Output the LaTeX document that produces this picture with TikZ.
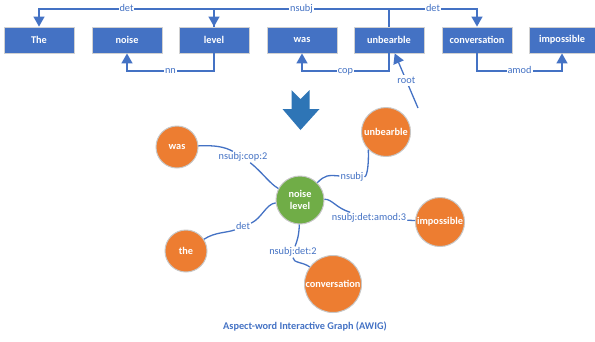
\documentclass[tikz,border=0pt]{standalone}
\usepackage{fontspec}
\setmainfont{Carlito}
\usetikzlibrary{arrows.meta}
\definecolor{boxblue}{HTML}{4472C4}
\definecolor{worange}{HTML}{ED7D31}
\definecolor{wgreen}{HTML}{70AD47}
\definecolor{bigarrow}{HTML}{2E75B6}
\begin{document}
\begin{tikzpicture}[x=1pt,y=-1pt,
  wordbox/.style={rectangle, fill=boxblue, draw=black!18, line width=0.8pt, minimum width=70pt, minimum height=26pt, inner sep=0pt, text=white, font=\fontsize{10.3}{12}\selectfont\bfseries},
  dep/.style={draw=boxblue, line width=1.3pt, -{Triangle[width=11pt,length=10pt]}},
  deplink/.style={draw=boxblue, line width=1.3pt},
  lbl/.style={fill=white, inner sep=1pt, text=boxblue, font=\fontsize{10.3}{12}\selectfont, text height=7pt, text depth=2pt},
  wcirc/.style={circle, draw=black!22, line width=1pt, inner sep=0pt, text=white, font=\fontsize{10.3}{12.5}\selectfont\bfseries, align=center},
  curve/.style={draw=boxblue, line width=1.3pt}]
\useasboundingbox (0,0) rectangle (595,341);

% word boxes
\node[wordbox] (The) at (39,40) {The};
\node[wordbox] (noise) at (127,40) {noise};
\node[wordbox] (level) at (214,40) {level};
\node[wordbox] (was) at (302,40) {was};
\node[wordbox] (unbear) at (389,40) {unbearble};
\node[wordbox] (conv) at (477,40) {conversation};
\node[wordbox, minimum width=66pt] (impos) at (562,40) {impossible};

\coordinate (top) at (0,9);
\coordinate (bot) at (0,71);

% upper arcs
\draw[dep] (level.north) -- (level.north |- top) -- node[lbl]{det} (The.north |- top) -- (The.north);
\draw[dep] (unbear.north) -- (unbear.north |- top) -- node[lbl]{nsubj} (level.north |- top) -- (level.north);
\draw[dep] (unbear.north |- top) -- node[lbl]{det} (conv.north |- top) -- (conv.north);

% lower arcs
\draw[dep] (level.south) -- (level.south |- bot) -- node[lbl]{nn} (noise.south |- bot) -- (noise.south);
\draw[dep] (unbear.south) -- (unbear.south |- bot) -- node[lbl]{cop} (was.south |- bot) -- (was.south);
\draw[dep] (conv.south) -- (conv.south |- bot) -- node[lbl]{amod} (impos.south |- bot) -- (impos.south);

% root
\coordinate (rs) at (418,108);
\draw[dep] (rs) -- node[lbl]{root} (unbear);

% big arrow
\fill[bigarrow] (291.5,90) -- (300.5,99) -- (309.5,90) -- (309.5,109) -- (319.5,109) -- (300.5,130) -- (282.5,109) -- (291.5,109) -- cycle;

% circles
\node[wcirc, fill=worange, minimum size=42pt] (cwas) at (177,147) {was};
\node[wcirc, fill=wgreen, minimum size=48pt] (cnl) at (300,200) {noise\\level};
\node[wcirc, fill=worange, minimum size=49pt] (cunb) at (386,132) {unbearble};
\node[wcirc, fill=worange, minimum size=49pt] (cimp) at (440,222) {impossible};
\node[wcirc, fill=worange, minimum size=42pt] (cthe) at (186,251) {the};
\node[wcirc, fill=worange, minimum size=57pt] (cconv) at (333,284) {conversation};

% edge labels
\node[lbl] (l1) at (243,157) {nsubj:cop:2};
\node[lbl] (l2) at (352,177) {nsubj};
\node[lbl] (l3) at (369,218) {nsubj:det:amod:3};
\node[lbl] (l4) at (243,227) {det};
\node[lbl] (l5) at (293,252) {nsubj:det:2};

% curved edges
\draw[curve] (cwas) .. controls (215,145) and (225,147) .. (l1);
\draw[curve] (l1) .. controls (262,172) and (270,184) .. (cnl);
\draw[curve] (cunb.225) .. controls (369,170) and (366,177) .. (l2);
\draw[curve] (l2) .. controls (328,175) and (325,175) .. (cnl);
\draw[curve] (cnl) .. controls (332,199) and (336,208) .. (l3);
\draw[curve] (l3) -- (cimp);
\draw[curve] (cnl) .. controls (266,204) and (262,218) .. (l4);
\draw[curve] (l4) .. controls (226,233) and (215,232) .. (cthe);
\draw[curve] (cnl) .. controls (299,236) and (297,241) .. (l5);
\draw[curve] (l5) .. controls (293,263) and (303,262) .. (cconv);

% caption
\node[text=boxblue, font=\fontsize{10.3}{12}\selectfont\bfseries] (cap) at (305,326) {Aspect-word Interactive Graph (AWIG)};
\end{tikzpicture}
\end{document}
